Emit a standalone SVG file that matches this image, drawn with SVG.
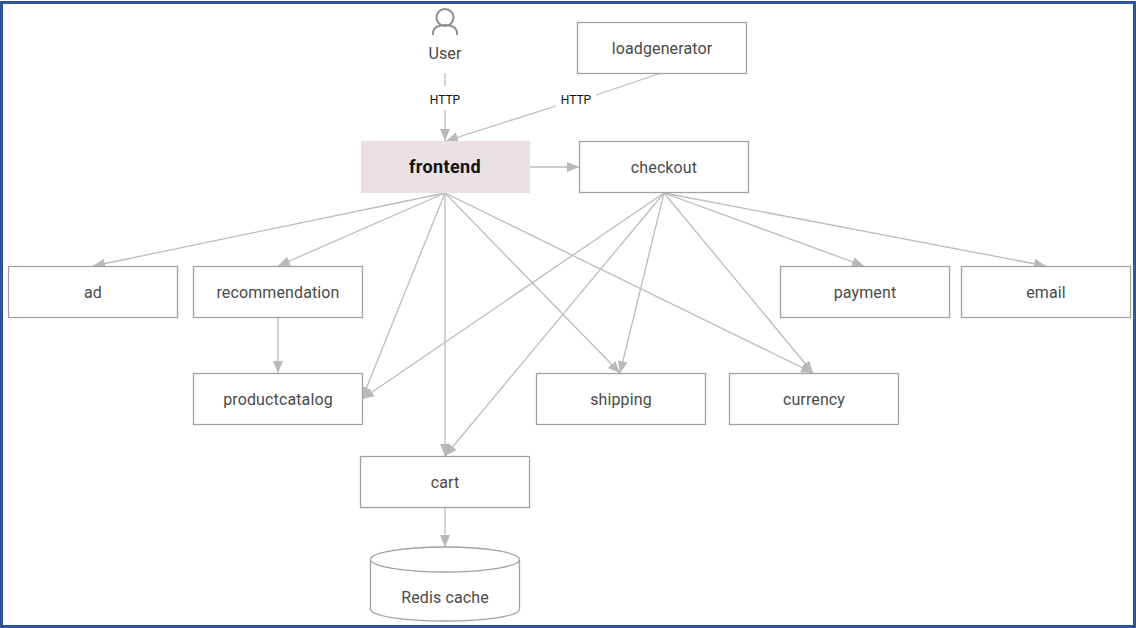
<svg xmlns="http://www.w3.org/2000/svg" width="1136" height="628" viewBox="0 0 1136 628">
<style>
.box{fill:#fff;stroke:#a2a2a2;stroke-width:1.3}
.t{font-family:Roboto,"Liberation Sans",sans-serif;font-size:16px;letter-spacing:.12px;fill:#4a4a4a;text-anchor:middle}
.h{font-family:Roboto,"Liberation Sans",sans-serif;font-size:12px;fill:#111;text-anchor:middle}
.c{fill:none;stroke:#bcbcbc;stroke-width:1.3;marker-end:url(#a)}
.p{fill:none;stroke:#bcbcbc;stroke-width:1.3}
</style>
<defs>
<marker id="a" markerUnits="userSpaceOnUse" markerWidth="14" markerHeight="12" refX="12" refY="5" orient="auto">
<path d="M0 0L12 5L0 10Z" fill="#b9b9b9"/>
</marker>
</defs>
<rect x="0" y="0" width="1136" height="628" fill="#fff"/>
<rect x="1.500" y="2.500" width="1133" height="624" fill="none" stroke="#2f5597" stroke-width="3"/>
<g id="connectors">
<path class="p" d="M445 73V86"/>
<path class="c" d="M445 110V141"/>
<path class="p" d="M661 73L596 95"/>
<path class="c" d="M556 106L446 141"/>
<path class="c" d="M529 167H579"/>
<path class="c" d="M445 193L93 266"/>
<path class="c" d="M445 193L278 266"/>
<path class="c" d="M445 193L362 399"/>
<path class="c" d="M445 193V456"/>
<path class="c" d="M445 193L620 373"/>
<path class="c" d="M445 193L813 373"/>
<path class="c" d="M664 193L362 399"/>
<path class="c" d="M664 193L445 456"/>
<path class="c" d="M664 193L620 373"/>
<path class="c" d="M664 193L813 373"/>
<path class="c" d="M664 193L864 266"/>
<path class="c" d="M664 193L1046 266"/>
<path class="c" d="M278 318V373"/>
<path class="c" d="M445 508V547"/>
</g>
<text class="h" x="445" y="104">HTTP</text>
<text class="h" x="576" y="104">HTTP</text>
<g id="user">
<circle cx="445" cy="17.500" r="8.500" fill="none" stroke="#8f8f8f" stroke-width="2"/>
<path d="M433 35V33C433 27.500 439 25 445 25S457 27.500 457 33V35" fill="none" stroke="#8f8f8f" stroke-width="2"/>
<text class="t" x="445" y="58.500">User</text>
</g>
<g id="loadgenerator"><rect class="box" x="577.500" y="22.500" width="169" height="51"/><text class="t" x="662" y="53.500">loadgenerator</text></g>
<g id="frontend"><rect x="361" y="141" width="169" height="52" fill="#e9e0e4"/><text class="t" x="445" y="172.500" style="font-weight:700;font-size:18px;letter-spacing:.35px;fill:#111">frontend</text></g>
<g id="checkout"><rect class="box" x="579.500" y="141.500" width="169" height="51"/><text class="t" x="664" y="172.500">checkout</text></g>
<g id="ad"><rect class="box" x="8.500" y="266.500" width="169" height="51"/><text class="t" x="93" y="297.500">ad</text></g>
<g id="recommendation"><rect class="box" x="193.500" y="266.500" width="169" height="51"/><text class="t" x="278" y="297.500">recommendation</text></g>
<g id="payment"><rect class="box" x="780.500" y="266.500" width="169" height="51"/><text class="t" x="865" y="297.500">payment</text></g>
<g id="email"><rect class="box" x="961.500" y="266.500" width="169" height="51"/><text class="t" x="1046" y="297.500">email</text></g>
<g id="productcatalog"><rect class="box" x="193.500" y="373.500" width="169" height="51"/><text class="t" x="278" y="405">productcatalog</text></g>
<g id="shipping"><rect class="box" x="536.500" y="373.500" width="169" height="51"/><text class="t" x="621" y="405">shipping</text></g>
<g id="currency"><rect class="box" x="729.500" y="373.500" width="169" height="51"/><text class="t" x="814" y="405">currency</text></g>
<g id="cart"><rect class="box" x="360.500" y="456.500" width="169" height="51"/><text class="t" x="445" y="488">cart</text></g>
<g id="redis">
<path d="M370.500 559.500V609C370.500 616 403 621 445 621S519.500 616 519.500 609V559.500" fill="#fff" stroke="#a2a2a2" stroke-width="1.300"/>
<ellipse cx="445" cy="559.500" rx="74.500" ry="12.500" fill="#fff" stroke="#a2a2a2" stroke-width="1.300"/>
<text class="t" x="445" y="603">Redis cache</text>
</g>
</svg>
